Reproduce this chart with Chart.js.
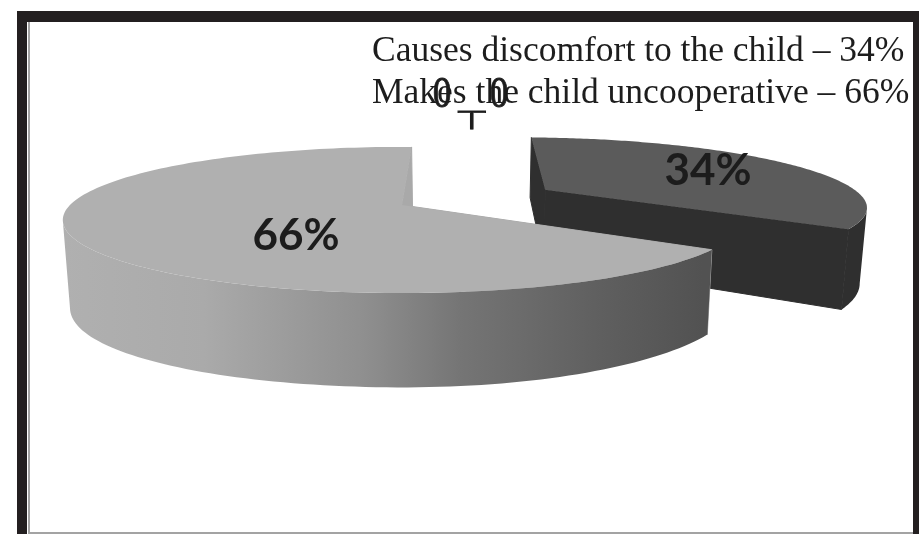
<!DOCTYPE html>
<html>
<head>
<meta charset="utf-8">
<title>Pie chart</title>
<script src="https://cdn.jsdelivr.net/npm/chart.js@4"></script>
<style>
  html, body { margin: 0; padding: 0; background: #fff; }
  #wrap { position: relative; width: 919px; height: 534px; overflow: hidden; }
  #pie { position: absolute; left: 0; top: 0; }
  /* heavy dark border with a thin grey inner rule */
  .bar { position: absolute; background: #231f20; }
  .rule { position: absolute; background: #a3a3a3; }
</style>
</head>
<body>
<div id="wrap">
  <canvas id="pie" width="919" height="534"></canvas>
  <div class="bar" style="left:17px;top:11px;width:902px;height:11px"></div>
  <div class="bar" style="left:17px;top:11px;width:10px;height:523px"></div>
  <div class="bar" style="left:913px;top:11px;width:6px;height:523px"></div>
  <div class="rule" style="left:28px;top:22px;width:2px;height:512px"></div>
  <div class="rule" style="left:28px;top:532px;width:885px;height:2px"></div>
</div>

<script>
const categories = ['Causes discomfort to the child', 'Makes the child uncooperative'];
const values = [34, 66];
const topColors = ['#5b5b5b', '#b0b0b0'];
const stemColors = ['#2f2f2f', '#a9a9a9'];

// perspective of the disc: near side is bigger than the far side
const tiltY = 70 / 332;
const tiltK = 0.205;
const wallDepth = 75;
const wallInset = 0.018;
const wallVanishX = 60;
// how far each slice is pulled from the centre, in radii
const explode = [0.506, 0];
const sliceScale = [0.975, 1];

function project(arc, index, angle, r, lower) {
  const mid = (arc.startAngle + arc.endAngle) / 2;
  const s = r * sliceScale[index];
  const u = s * Math.cos(angle) + explode[index] * Math.cos(mid);
  const v = s * Math.sin(angle) + explode[index] * Math.sin(mid);
  const w = 1 - tiltK * v;
  let x = arc.x + arc.outerRadius * u / w;
  let y = arc.y + arc.outerRadius * tiltY * v / w;
  if (lower) {
    x -= (x - arc.x - wallVanishX) * wallInset;
    y += wallDepth / w + (u < 0 ? 10 * u * u : 0);
  }
  return [x, y];
}

function rimPoints(arc, index, lower) {
  const pts = [];
  const steps = 160;
  for (let i = 0; i <= steps; i++) {
    const a = arc.startAngle + (arc.endAngle - arc.startAngle) * i / steps;
    pts.push(project(arc, index, a, 1, lower));
  }
  return pts;
}

function tracePath(ctx, pts) {
  pts.forEach((p, i) => (i ? ctx.lineTo(p[0], p[1]) : ctx.moveTo(p[0], p[1])));
  ctx.closePath();
}

// fill plus a hairline of the same colour, closes the gaps between adjoining faces
function paint(ctx, style) {
  ctx.fillStyle = style;
  ctx.strokeStyle = style;
  ctx.lineWidth = 1;
  ctx.lineJoin = 'round';
  ctx.fill();
  ctx.stroke();
}

function wallGradient(ctx, index) {
  if (index === 0) return stemColors[0];
  const g = ctx.createLinearGradient(63, 0, 703, 0);
  g.addColorStop(0, '#b0b0b0');
  g.addColorStop(0.22, '#aaaaaa');
  g.addColorStop(0.47, '#8f8f8f');
  g.addColorStop(0.62, '#757575');
  g.addColorStop(0.84, '#5f5f5f');
  g.addColorStop(1, '#525252');
  return g;
}

function drawScaledText(ctx, text, font, x, y, scaleX) {
  ctx.save();
  ctx.font = font;
  ctx.strokeStyle = ctx.fillStyle;
  ctx.lineWidth = 0.8;
  ctx.translate(x, y);
  ctx.scale(scaleX, 1);
  ctx.fillText(text, 0, 0);
  ctx.strokeText(text, 0, 0);
  ctx.restore();
}

// Draws the slices as extruded, tilted wedges using the arcs laid out by the controller
const tiltedPie = {
  id: 'tiltedPie',
  beforeDatasetDraw(chart, args) {
    const ctx = chart.ctx;
    const arcs = args.meta.data;
    ctx.save();
    arcs.forEach((arc, i) => {
      const top = rimPoints(arc, i, false);
      const low = rimPoints(arc, i, true);
      const apexTop = project(arc, i, 0, 0, false);
      const apexLow = project(arc, i, 0, 0, true);
      const last = top.length - 1;
      // cut faces
      ctx.beginPath();
      tracePath(ctx, [top[0], apexTop, apexLow, low[0]]);
      paint(ctx, stemColors[i]);
      ctx.beginPath();
      tracePath(ctx, [top[last], apexTop, apexLow, low[last]]);
      paint(ctx, stemColors[i]);
      // outer wall: front-facing rim steps only, one path so no seams show
      ctx.beginPath();
      for (let k = 0; k < last; k++) {
        if (top[k + 1][0] < top[k][0]) {
          tracePath(ctx, [top[k], top[k + 1], low[k + 1], low[k]]);
        }
      }
      ctx.fillStyle = wallGradient(ctx, i);
      ctx.fill();
      // top face
      ctx.beginPath();
      tracePath(ctx, [apexTop].concat(top));
      ctx.fillStyle = topColors[i];
      ctx.fill();
    });
    ctx.restore();
    return false;
  },
  afterDatasetsDraw(chart) {
    const ctx = chart.ctx;
    ctx.save();
    ctx.fillStyle = '#1c1c1c';
    ctx.textAlign = 'center';
    ctx.textBaseline = 'alphabetic';
    ctx.font = 'bold 44px Lato';
    ctx.fillText(values[0] + '%', 708, 185);
    ctx.fillText(values[1] + '%', 296, 250);

    ctx.fillStyle = '#1d1d1d';
    ctx.textAlign = 'left';
    ctx.font = '35.5px "Liberation Serif"';
    ctx.fillText(categories[0] + ' – ' + values[0] + '%', 372, 61);
    ctx.fillText(categories[1] + ' – ' + values[1] + '%', 372, 103);

    // stray equation fragment sitting over the second legend line
    ctx.textAlign = 'center';
    drawScaledText(ctx, '0', '44px "Liberation Serif"', 442, 107, 0.85);
    drawScaledText(ctx, '0', '44px "Liberation Serif"', 499, 107, 0.85);
    drawScaledText(ctx, '⊤', '26px "DejaVu Sans"', 472, 129, 1.5);
    ctx.restore();
  }
};

new Chart(document.getElementById('pie'), {
  type: 'pie',
  data: {
    labels: categories,
    datasets: [{ data: values, backgroundColor: topColors, borderWidth: 0 }]
  },
  options: {
    responsive: false,
    animation: false,
    radius: 332,
    rotation: 2,
    layout: { padding: { left: 0, right: 115, top: 0, bottom: 124 } },
    plugins: { legend: { display: false }, tooltip: { enabled: false } }
  },
  plugins: [tiltedPie]
});
</script>
</body>
</html>
